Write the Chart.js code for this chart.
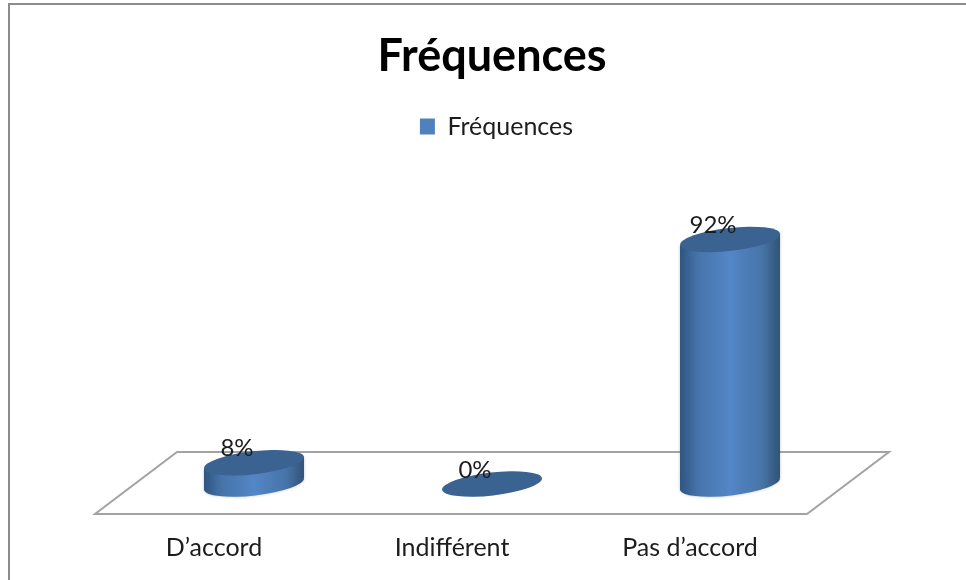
<!DOCTYPE html>
<html>
<head>
<meta charset="utf-8">
<title>Fréquences</title>
<script src="https://cdn.jsdelivr.net/npm/chart.js@4"></script>
<style>
	html, body { margin: 0; height: 100%; overflow: hidden; background: #fff; }
	/* frame runs off the right and bottom of the window */
	#frame { position: absolute; left: 8px; top: 3px; width: 1000px; height: 620px; border: 2px solid #8c8c8c; }
	#chart { position: absolute; left: 0; top: 0; }
</style>
</head>
<body>
<div id="frame"><canvas id="chart" width="966" height="599"></canvas></div>
<script>
const seriesName = "Fréquences";
const categories = ["D’accord", "Indifférent", "Pas d’accord"];
const percents = [8, 0, 92];

const fontFamily = "Lato, sans-serif";

// tilted ellipse used for the caps, sizes relative to the bar width
const capRx = 0.503;
const capRy = 0.115;
const capTilt = -6.5 * Math.PI / 180;
const capDrop = 0.06;

class CylinderBar extends Chart.BarElement {
	draw(ctx) {
		const { x, y, base, width } = this.getProps(["x", "y", "base", "width"]);
		const rx = width * capRx;
		const ry = width * capRy;
		const d = width * capDrop;
		const l = x - width / 2;
		const r = x + width / 2;

		ctx.save();
		if (base - y > 1) {
			const grad = ctx.createLinearGradient(l, 0, r, 0);
			grad.addColorStop(0, "#2f5581");
			grad.addColorStop(0.18, "#4674aa");
			grad.addColorStop(0.5, "#5386c6");
			grad.addColorStop(0.82, "#4774a8");
			grad.addColorStop(1, "#315377");

			ctx.shadowColor = "rgba(0,0,0,0.25)";
			ctx.shadowBlur = 3;
			ctx.fillStyle = grad;
			ctx.beginPath();
			ctx.ellipse(x, base, rx, ry, capTilt, 0, Math.PI * 2);
			ctx.moveTo(l, y + d);
			ctx.lineTo(r, y - d);
			ctx.lineTo(r, base - d);
			ctx.lineTo(l, base + d);
			ctx.closePath();
			ctx.fill();
		}
		ctx.shadowColor = "transparent";
		ctx.fillStyle = "#3b6391";
		ctx.beginPath();
		ctx.ellipse(x, y, rx, ry, capTilt, 0, Math.PI * 2);
		ctx.fill();
		ctx.restore();
	}
}
CylinderBar.id = "cylinderBar";
CylinderBar.defaults = { ...Chart.BarElement.defaults };

class CylinderController extends Chart.BarController {}
CylinderController.id = "cylinder";
CylinderController.defaults = { ...Chart.BarController.defaults, dataElementType: "cylinderBar" };

Chart.register(CylinderBar, CylinderController);

// the slanted floor under the bars
const floorPlugin = {
	id: "floor",
	afterLayout(chart) {
		// nudge the legend a little right of the title's centre
		chart.legend.left += 9;
	},
	beforeDatasetsDraw(chart) {
		const { ctx, chartArea, scales } = chart;
		const zero = scales.y.getPixelForValue(0);
		ctx.save();
		ctx.strokeStyle = "#a3a3a3";
		ctx.lineWidth = 2;
		ctx.lineJoin = "miter";
		ctx.beginPath();
		ctx.moveTo(chartArea.left + 42, zero - 32);
		ctx.lineTo(chartArea.right + 40, zero - 32);
		ctx.lineTo(chartArea.right - 42, zero + 30);
		ctx.lineTo(chartArea.left - 40, zero + 30);
		ctx.closePath();
		ctx.stroke();
		ctx.restore();
	},
};

// percent labels sit up and to the left of each cap
const valueLabels = {
	id: "valueLabels",
	afterDatasetsDraw(chart) {
		const { ctx } = chart;
		ctx.save();
		ctx.font = "24px " + fontFamily;
		ctx.fillStyle = "#1c1c1c";
		ctx.textAlign = "center";
		ctx.textBaseline = "middle";
		chart.getDatasetMeta(0).data.forEach((bar, i) => {
			ctx.fillText(percents[i] + "%", bar.x - 17, bar.y - 14);
		});
		ctx.restore();
	},
};

new Chart(document.getElementById("chart"), {
	type: "cylinder",
	data: {
		labels: categories,
		datasets: [{
			label: seriesName,
			data: percents,
			backgroundColor: "#4f81bd",
			categoryPercentage: 1,
			barPercentage: 0.42,
			clip: false,
		}],
	},
	options: {
		responsive: false,
		animation: false,
		layout: { padding: { left: 125, right: 127, bottom: 0, top: 0 } },
		plugins: {
			title: {
				display: true,
				text: "Fréquences",
				color: "#000",
				font: { family: fontFamily, size: 45, weight: "bold" },
				padding: { top: 24, bottom: 25 },
			},
			legend: {
				position: "top",
				labels: {
					boxWidth: 15,
					boxHeight: 16,
					color: "#1c1c1c",
					padding: 6,
					font: { family: fontFamily, size: 25 },
				},
			},
			tooltip: { enabled: false },
		},
		scales: {
			x: {
				grid: { display: false },
				border: { display: false },
				ticks: {
					color: "#1c1c1c",
					padding: 41,
					labelOffset: -40,
					font: { family: fontFamily, size: 25 },
				},
			},
			y: { display: false, min: 0, max: 126 },
		},
	},
	plugins: [floorPlugin, valueLabels],
});
</script>
</body>
</html>
